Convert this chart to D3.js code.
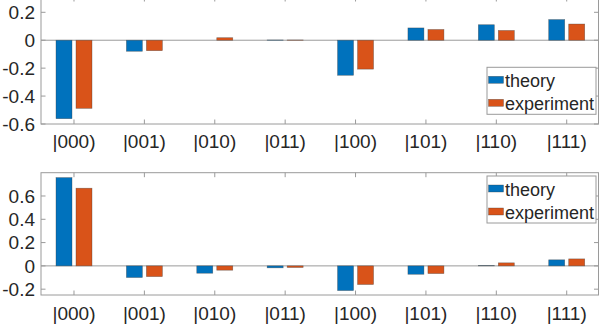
<!DOCTYPE html>
<html>
<head>
<meta charset="utf-8">
<script src="https://cdn.jsdelivr.net/npm/d3@7"></script>
<style>
  body { margin: 0; background: #fff; }
  svg { display: block; font-family: "Liberation Sans", Arial, sans-serif; }
</style>
</head>
<body>
<svg id="chart" width="602" height="327"></svg>
<script>
const WIDTH = 602;
const HEIGHT = 327;

// data
const states = ["|000)", "|001)", "|010)", "|011)", "|100)", "|101)", "|110)", "|111)"];
const series = ["theory", "experiment"];
const topTheory = [-0.562, -0.079, 0.0, 0.002, -0.251, 0.088, 0.111, 0.148];
const topExperiment = [-0.488, -0.075, 0.018, 0.002, -0.207, 0.077, 0.070, 0.116];
const bottomTheory = [0.758, -0.100, -0.063, -0.017, -0.212, -0.072, 0.002, 0.052];
const bottomExperiment = [0.667, -0.092, -0.037, -0.014, -0.160, -0.066, 0.026, 0.060];
const topTicks = [-0.6, -0.4, -0.2, 0, 0.2];
const bottomTicks = [-0.2, 0, 0.2, 0.4, 0.6];

const colors = d3.scaleOrdinal().domain(series).range(["#0072BD", "#D95319"]);
const axisColor = "#9a9a9a";

const svg = d3.select("#chart");

// shared x scales
const x = d3.scaleBand().domain(states).range([38.8, 601.9]).paddingInner(0).paddingOuter(0);
const xSub = d3.scaleBand().domain(series).range([-18, 18]).paddingInner(0.2).paddingOuter(0);

function drawPanel(cfg) {
    const g = svg.append("g");
    const y = d3.scaleLinear().domain(cfg.domain).range(cfg.range);
    const left = 41, right = 598.5;
    const top = cfg.boxTop, bottom = cfg.boxBottom;

    // baseline at zero
    g.append("line")
        .attr("x1", left).attr("x2", right)
        .attr("y1", y(0)).attr("y2", y(0))
        .attr("stroke", axisColor).attr("stroke-width", 1);

    // bars
    const rows = states.map((s, i) => ({ state: s, theory: cfg.theory[i], experiment: cfg.experiment[i] }));
    g.selectAll("g.grp")
        .data(rows)
        .join("g")
        .attr("class", "grp")
        .attr("transform", d => `translate(${x(d.state) + x.bandwidth() / 2},0)`)
        .selectAll("rect")
        .data(d => series.map(k => ({ key: k, value: d[k] })))
        .join("rect")
        .attr("x", d => xSub(d.key))
        .attr("width", xSub.bandwidth())
        .attr("y", d => Math.min(y(0), y(d.value)))
        .attr("height", d => Math.abs(y(d.value) - y(0)))
        .attr("fill", d => colors(d.key))
        .attr("stroke", "#3a3a3a")
        .attr("stroke-opacity", 0.55)
        .attr("stroke-width", 0.6);

    // axes box
    g.append("rect")
        .attr("x", left).attr("y", top)
        .attr("width", right - left).attr("height", bottom - top)
        .attr("fill", "none").attr("stroke", axisColor).attr("stroke-width", 1);

    // x ticks (inside, top and bottom)
    states.forEach(s => {
        const cx = x(s) + x.bandwidth() / 2;
        g.append("line").attr("x1", cx).attr("x2", cx).attr("y1", bottom).attr("y2", bottom - 4.5)
            .attr("stroke", axisColor);
        g.append("line").attr("x1", cx).attr("x2", cx).attr("y1", top).attr("y2", top + 4.5)
            .attr("stroke", axisColor);
    });

    // y ticks (inside, left and right)
    cfg.ticks.forEach(t => {
        g.append("line").attr("x1", left).attr("x2", left + 4.5).attr("y1", y(t)).attr("y2", y(t))
            .attr("stroke", axisColor);
        g.append("line").attr("x1", right).attr("x2", right - 4.5).attr("y1", y(t)).attr("y2", y(t))
            .attr("stroke", axisColor);
    });

    // y tick labels
    g.selectAll("text.ylab")
        .data(cfg.ticks)
        .join("text")
        .attr("class", "ylab")
        .attr("x", 35)
        .attr("y", d => y(d))
        .attr("dy", "0.36em")
        .attr("text-anchor", "end")
        .attr("font-size", "19px")
        .attr("fill", "#262626")
        .text(d => String(d));

    // x tick labels
    g.selectAll("text.xlab")
        .data(states)
        .join("text")
        .attr("class", "xlab")
        .attr("x", d => x(d) + x.bandwidth() / 2)
        .attr("y", cfg.labelBaseline)
        .attr("text-anchor", "middle")
        .attr("font-size", "19px")
        .attr("fill", "#262626")
        .text(d => d);

    // legend
    const lg = g.append("g").attr("transform", `translate(487,${cfg.legendTop})`);
    lg.append("rect")
        .attr("width", 109).attr("height", 47)
        .attr("fill", "#fff").attr("stroke", axisColor).attr("stroke-width", 1);
    series.forEach((k, i) => {
        const cy = 12.5 + i * 23;
        lg.append("rect")
            .attr("x", 1.5).attr("y", cy - 3.5)
            .attr("width", 15).attr("height", 7)
            .attr("fill", colors(k))
            .attr("stroke", "#3a3a3a").attr("stroke-opacity", 0.55).attr("stroke-width", 0.6);
        lg.append("text")
            .attr("x", 18).attr("y", cy + 7.5)
            .attr("font-size", "18px")
            .attr("fill", "#262626")
            .text(k);
    });
}

drawPanel({
    theory: topTheory, experiment: topExperiment,
    domain: [-0.6, 0.2], range: [124, 12.3],
    boxTop: -3, boxBottom: 124,
    ticks: topTicks, labelBaseline: 148, legendTop: 67.3
});

drawPanel({
    theory: bottomTheory, experiment: bottomExperiment,
    domain: [-0.25, 0.8], range: [295, 172.7],
    boxTop: 172.7, boxBottom: 295,
    ticks: bottomTicks, labelBaseline: 319.5, legendTop: 176
});
</script>
</body>
</html>
